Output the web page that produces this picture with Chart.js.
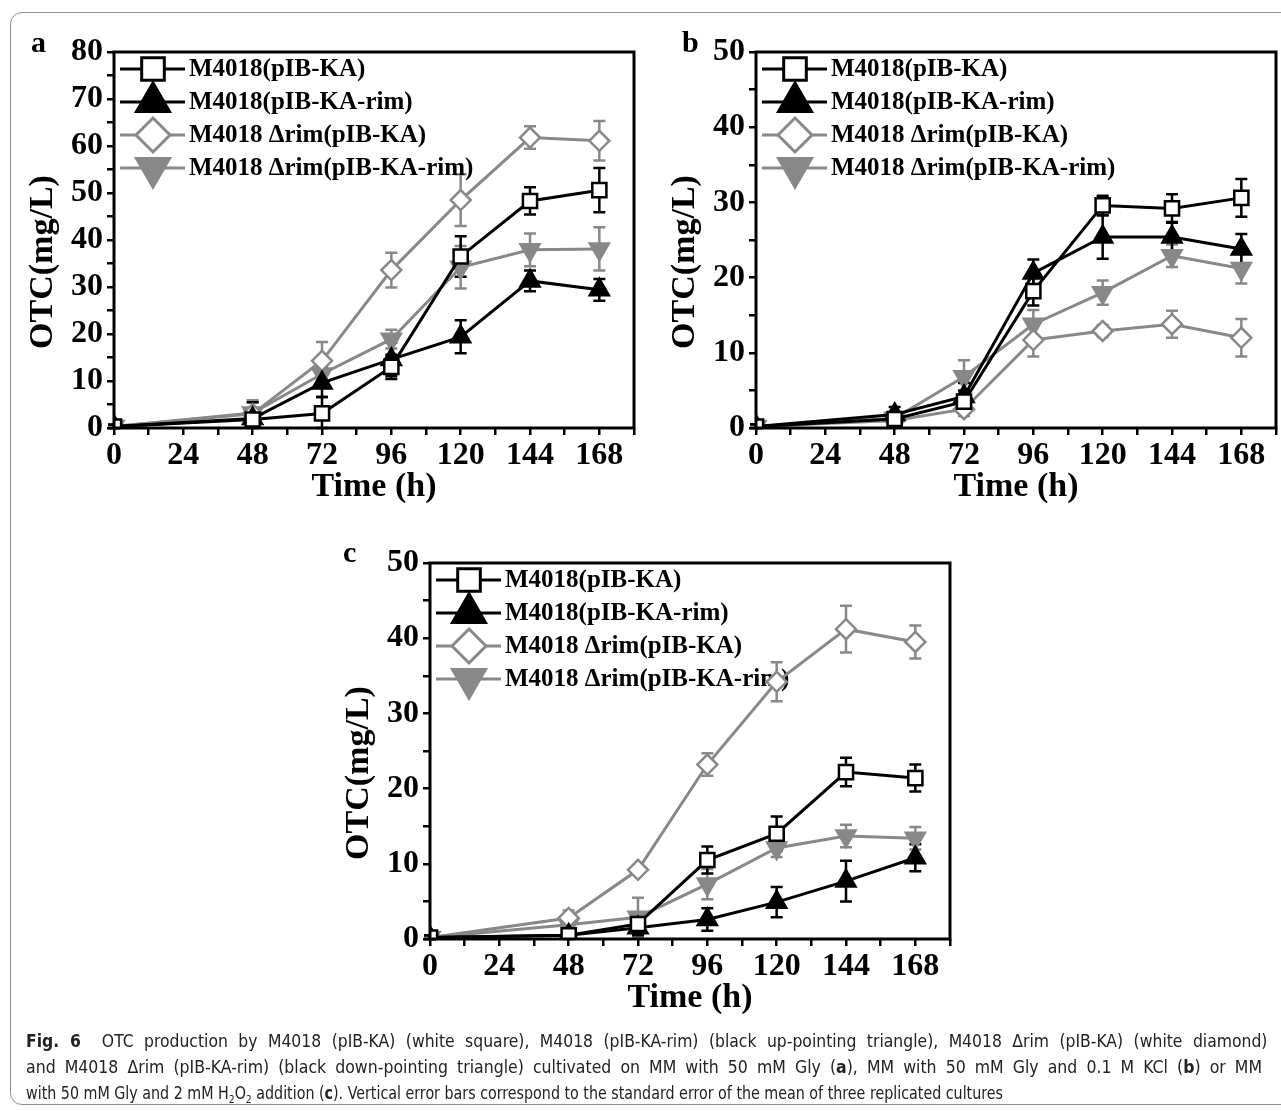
<!DOCTYPE html>
<html>
<head>
<meta charset="utf-8">
<script src="https://cdn.jsdelivr.net/npm/chart.js@4.4.0/dist/chart.umd.min.js"></script>
<style>
html,body{margin:0;padding:0;background:#fff;}
body{width:1281px;height:1111px;position:relative;overflow:hidden;}
#frame{position:absolute;left:10px;top:12px;width:1300px;height:1093px;border:1.5px solid #8e8e8e;border-radius:12px;box-sizing:border-box;}
.pane{position:absolute;}
.letter{position:absolute;font-family:'Liberation Serif','Times New Roman',serif;font-weight:bold;font-size:30px;line-height:30px;color:#000;}
#caption{position:absolute;left:26px;top:1028px;font-family:'Liberation Sans Narrow','DejaVu Sans Condensed','Open Sans',sans-serif;font-size:17px;color:#222;}
.cl{white-space:nowrap;height:26px;line-height:26px;}
.cl span{display:inline-block;transform-origin:0 50%;}
sub{font-size:11px;line-height:0;}
</style>
</head>
<body>
<div id="frame"></div>
<canvas id="ca" class="pane" width="640" height="520" style="left:0px;top:0px;"></canvas>
<canvas id="cb" class="pane" width="640" height="520" style="left:642px;top:0px;"></canvas>
<canvas id="cc" class="pane" width="640" height="520" style="left:316px;top:511px;"></canvas>
<div class="letter" style="left:31px;top:27px;">a</div>
<div class="letter" style="left:682px;top:27px;">b</div>
<div class="letter" style="left:343px;top:537px;">c</div>
<div id="caption">
<div class="cl"><span data-w="1236"><b>Fig. 6</b>&nbsp; OTC production by M4018 (pIB-KA) (white square), M4018 (pIB-KA-rim) (black up-pointing triangle), M4018 Δrim (pIB-KA) (white diamond)</span></div>
<div class="cl"><span data-w="1236">and M4018 Δrim (pIB-KA-rim) (black down-pointing triangle) cultivated on MM with 50 mM Gly (<b>a</b>), MM with 50 mM Gly and 0.1 M KCl (<b>b</b>) or MM</span></div>
<div class="cl"><span data-w="977" data-last="1">with 50 mM Gly and 2 mM H<sub>2</sub>O<sub>2</sub> addition (<b>c</b>). Vertical error bars correspond to the standard error of the mean of three replicated cultures</span></div>
</div>
<script>
// ---------- data ----------
const timeH = [0, 48, 72, 96, 120, 144, 168];
const seriesLabels = ['M4018(pIB-KA)', 'M4018(pIB-KA-rim)', 'M4018 Δrim(pIB-KA)', 'M4018 Δrim(pIB-KA-rim)'];
const xTickLabels = ['0', '24', '48', '72', '96', '120', '144', '168'];
const yTickLabelsA = ['0', '10', '20', '30', '40', '50', '60', '70', '80'];
const yTickLabelsBC = ['0', '10', '20', '30', '40', '50'];
const xTitle = 'Time (h)';
const yTitle = 'OTC(mg/L)';

// panel a: MM + 50 mM Gly
const aSquare      = [0.3, 1.8, 3.1, 13.0, 36.5, 48.3, 50.6];
const aSquareErr   = [0.4, 1.0, 3.5, 2.6, 4.3, 2.9, 4.7];
const aUp          = [0.3, 2.0, 9.6, 14.6, 19.4, 31.3, 29.4];
const aUpErr       = [0.4, 3.5, 3.0, 3.6, 3.5, 2.2, 2.3];
const aDiamond     = [0.3, 3.0, 14.3, 33.6, 48.5, 61.8, 61.1];
const aDiamondErr  = [0.4, 2.5, 4.0, 3.7, 5.5, 2.4, 4.2];
const aDown        = [0.3, 3.2, 11.5, 18.9, 34.2, 37.9, 38.1];
const aDownErr     = [0.4, 2.7, 1.5, 2.0, 4.5, 3.5, 4.6];

// panel b: MM + 50 mM Gly + 0.1 M KCl
const bSquare      = [0.2, 1.2, 3.5, 18.2, 29.6, 29.2, 30.6];
const bSquareErr   = [0.3, 0.8, 1.5, 1.9, 1.3, 1.9, 2.5];
const bUp          = [0.2, 1.8, 4.2, 20.6, 25.4, 25.4, 23.8];
const bUpErr       = [0.3, 1.0, 1.8, 1.8, 2.9, 2.0, 2.0];
const bDiamond     = [0.2, 1.0, 2.5, 11.7, 12.9, 13.8, 12.0];
const bDiamondErr  = [0.3, 0.6, 0.9, 2.2, 0.8, 1.8, 2.5];
const bDown        = [0.2, 1.3, 6.8, 13.8, 18.0, 22.9, 21.2];
const bDownErr     = [0.3, 0.6, 2.2, 1.9, 1.6, 1.5, 2.0];

// panel c: MM + 50 mM Gly + 2 mM H2O2
const cSquare      = [0.2, 0.5, 2.0, 10.5, 14.0, 22.2, 21.4];
const cSquareErr   = [0.3, 0.6, 1.0, 1.8, 2.3, 1.9, 1.8];
const cUp          = [0.2, 0.5, 1.5, 2.6, 4.9, 7.7, 10.8];
const cUpErr       = [0.3, 0.4, 1.0, 1.5, 2.0, 2.7, 1.8];
const cDiamond     = [0.2, 2.8, 9.2, 23.2, 34.2, 41.2, 39.5];
const cDiamondErr  = [0.3, 1.0, 0.6, 1.5, 2.6, 3.1, 2.2];
const cDown        = [0.2, 1.9, 2.9, 7.3, 12.1, 13.7, 13.4];
const cDownErr     = [0.3, 0.8, 2.6, 2.0, 1.2, 1.5, 1.5];

// ---------- styles ----------
const SERIF = "'Liberation Serif','Times New Roman',serif";
const BLACK = '#000000', GRAY = '#888888';
const seriesStyles = [
  {color: BLACK, fill: '#ffffff', pointStyle: 'rect',     radius: 10, rotation: 0,   legendRadius: 16},
  {color: BLACK, fill: BLACK,     pointStyle: 'triangle', radius: 11, rotation: 0,   legendRadius: 19},
  {color: GRAY,  fill: '#ffffff', pointStyle: 'rectRot',  radius: 10, rotation: 0,   legendRadius: 17},
  {color: GRAY,  fill: GRAY,      pointStyle: 'triangle', radius: 11, rotation: 180, legendRadius: 19}
];

const errorBarPlugin = {
  id: 'errorBars',
  beforeDatasetsDraw(chart) {
    const {ctx, scales: {x, y}} = chart;
    ctx.save();
    for (let i = chart.data.datasets.length - 1; i >= 0; i--) {
      const ds = chart.data.datasets[i];
      ctx.strokeStyle = ds.borderColor;
      ctx.lineWidth = 2.5;
      ds.data.forEach((p, j) => {
        const e = ds.errors[j];
        const px = x.getPixelForValue(p.x);
        const yt = y.getPixelForValue(p.y + e);
        const yb = y.getPixelForValue(Math.max(p.y - e, 0));
        ctx.beginPath();
        ctx.moveTo(px, yt); ctx.lineTo(px, yb);
        ctx.moveTo(px - 6, yt); ctx.lineTo(px + 6, yt);
        ctx.moveTo(px - 6, yb); ctx.lineTo(px + 6, yb);
        ctx.stroke();
      });
    }
    ctx.restore();
  }
};

const legendPlugin = {
  id: 'lineLegend',
  beforeDatasetsDraw(chart) {
    const {ctx, chartArea: a} = chart;
    ctx.save();
    chart.data.datasets.forEach((ds, i) => {
      const st = seriesStyles[i];
      const yy = a.top + 17 + i * 33;
      ctx.strokeStyle = st.color;
      ctx.lineWidth = 3;
      ctx.beginPath();
      ctx.moveTo(a.left + 6, yy); ctx.lineTo(a.left + 71, yy);
      ctx.stroke();
      ctx.fillStyle = st.fill;
      ctx.strokeStyle = st.color;
      ctx.lineWidth = 3;
      Chart.helpers.drawPoint(ctx, {pointStyle: st.pointStyle, radius: st.legendRadius, rotation: st.rotation, borderWidth: 3}, a.left + 39, yy);
      ctx.fillStyle = '#000';
      ctx.font = 'bold 25px ' + SERIF;
      ctx.textAlign = 'left';
      ctx.textBaseline = 'middle';
      ctx.fillText(ds.label, a.left + 75, yy + 1);
    });
    ctx.restore();
  }
};

const framePlugin = {
  id: 'frame',
  afterDraw(chart) {
    const {ctx, chartArea: a} = chart;
    ctx.save();
    ctx.strokeStyle = '#000';
    ctx.lineWidth = 3;
    ctx.strokeRect(a.left, a.top, a.right - a.left, a.bottom - a.top);
    ctx.translate(a.left - 71, (a.top + a.bottom) / 2 + 22);
    ctx.rotate(-Math.PI / 2);
    ctx.fillStyle = '#000';
    ctx.font = 'bold 34px ' + SERIF;
    ctx.textAlign = 'center';
    ctx.textBaseline = 'middle';
    ctx.fillText(yTitle, 0, 0);
    ctx.restore();
  }
};

function makePanel(id, yMax, yLabels, values, errors) {
  const datasets = values.map((vals, i) => {
    const st = seriesStyles[i];
    return {
      label: seriesLabels[i],
      data: timeH.map((t, k) => ({x: t, y: vals[k]})),
      errors: errors[i],
      borderColor: st.color,
      backgroundColor: st.fill,
      borderWidth: 3,
      pointStyle: st.pointStyle,
      pointRadius: st.radius,
      pointHoverRadius: st.radius,
      pointRotation: st.rotation,
      pointBackgroundColor: st.fill,
      pointBorderColor: st.color,
      pointBorderWidth: 2.5,
      tension: 0,
      fill: false
    };
  });
  const tickFont = {family: SERIF, size: 32, weight: 'bold'};
  new Chart(document.getElementById(id), {
    type: 'line',
    data: {datasets},
    options: {
      responsive: false,
      animation: false,
      devicePixelRatio: 1,
      layout: {autoPadding: false, padding: {top: 52, right: 6, left: 0, bottom: 0}},
      plugins: {legend: {display: false}, tooltip: {enabled: false}},
      scales: {
        x: {
          type: 'linear', min: 0, max: 180,
          afterFit(s) { s.height = 92; s.paddingLeft = 0; s.paddingRight = 0; },
          border: {display: false},
          grid: {drawOnChartArea: false, drawTicks: true, tickLength: 7, color: '#000', lineWidth: 2.5},
          ticks: {stepSize: 12, autoSkip: false, maxRotation: 0, padding: 2, color: '#000', font: tickFont,
                  callback: v => xTickLabels.includes(String(v)) ? String(v) : ''},
          title: {display: true, text: xTitle, color: '#000',
                  font: {family: SERIF, size: 34, weight: 'bold', lineHeight: 1.2}, padding: {top: 0, bottom: 12}}
        },
        y: {
          type: 'linear', min: 0, max: yMax,
          afterFit(s) { s.width = 114; s.paddingTop = 0; s.paddingBottom = 0; },
          border: {display: false},
          grid: {drawOnChartArea: false, drawTicks: true, tickLength: 7, color: '#000', lineWidth: 2.5},
          ticks: {stepSize: 5, autoSkip: false, padding: 4, color: '#000', font: tickFont,
                  callback: v => yLabels.includes(String(v)) ? String(v) : ''}
        }
      }
    },
    plugins: [errorBarPlugin, legendPlugin, framePlugin]
  });
}

makePanel('ca', 80, yTickLabelsA, [aSquare, aUp, aDiamond, aDown], [aSquareErr, aUpErr, aDiamondErr, aDownErr]);
makePanel('cb', 50, yTickLabelsBC, [bSquare, bUp, bDiamond, bDown], [bSquareErr, bUpErr, bDiamondErr, bDownErr]);
makePanel('cc', 50, yTickLabelsBC, [cSquare, cUp, cDiamond, cDown], [cSquareErr, cUpErr, cDiamondErr, cDownErr]);

// caption: last line sets glyph scale; justified lines use a blend of glyph scale and word spacing
const spans = Array.from(document.querySelectorAll('.cl span'));
const lastSpan = spans[spans.length - 1];
const s3 = parseFloat(lastSpan.dataset.w) / lastSpan.getBoundingClientRect().width;
spans.forEach(sp => {
  const targetPx = parseFloat(sp.dataset.w);
  const w = sp.getBoundingClientRect().width;
  if (sp.dataset.last) {
    sp.style.transform = 'scaleX(' + s3 + ')';
    return;
  }
  const sOwn = targetPx / w;
  const s = (sOwn + s3) / 2;
  const nSpaces = (sp.textContent.match(/ /g) || []).length;
  const extra = (targetPx / s - w) / nSpaces;
  sp.style.wordSpacing = extra + 'px';
  sp.style.transform = 'scaleX(' + s + ')';
});
</script>
</body>
</html>
